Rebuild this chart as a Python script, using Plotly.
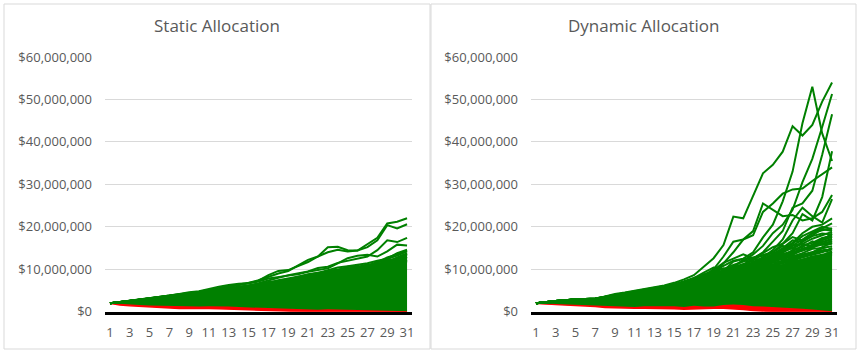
import plotly.graph_objects as go

years = list(range(1, 32))
tick_years = list(range(1, 32, 2))
y_ticks = [0, 10e6, 20e6, 30e6, 40e6, 50e6, 60e6]
y_tick_text = [f"${v:,.0f}" for v in y_ticks]
titles = ["Static Allocation", "Dynamic Allocation"]

# ---- Static allocation (values in $ millions) ----
static_red_bot = [2.0,1.6,1.4,1.25,1.1,1.0,0.9,0.75,0.8,0.7,0.75,0.7,0.6,0.5,0.4,0.3,0.25,0.2,0.1,0.05,0,0,0,0,0,0,0,0,0,0,0]
static_red_top = [2.0,1.8,1.65,1.55,1.45,1.4,1.3,1.2,1.3,1.2,1.3,1.35,1.25,1.1,1.0,0.95,0.9,0.85,0.75,0.6,0.5,0.45,0.6,0.55,0.5,0.5,0.45,0.35,0.25,0.15,0.1]
static_band_top = [2.0,2.3,2.6,2.9,3.2,3.5,3.8,4.0,4.3,4.5,4.8,5.1,5.4,5.7,6.0,6.3,6.6,6.9,7.3,7.6,7.9,8.3,8.6,9.0,9.3,9.7,10.1,10.5,11.0,11.6,12.2]
static_paths = [
    [2.0,2.3,2.6,2.9,3.2,3.5,3.8,4.1,4.5,4.7,5.2,5.6,6.0,6.4,6.8,7.4,8.2,9.0,9.6,11.0,12.2,13.0,14.0,14.6,14.2,14.4,15.8,17.4,20.8,21.2,22.0],
    [2.0,2.2,2.5,2.8,3.1,3.5,3.8,4.2,4.6,4.8,5.4,5.9,6.3,6.6,6.7,7.3,8.6,9.6,9.8,10.8,11.7,13.0,15.2,15.3,14.5,14.4,15.2,16.8,20.4,19.6,20.6],
    [2.0,2.2,2.5,2.8,3.1,3.3,3.6,3.9,4.2,4.5,4.8,5.1,5.5,5.9,6.2,6.7,7.4,8.0,8.6,9.0,9.5,10.3,10.6,11.5,12.0,12.6,13.0,14.5,16.8,16.4,17.4],
    [2.0,2.3,2.6,2.9,3.2,3.5,3.8,4.0,4.3,4.6,4.9,5.3,5.8,6.2,6.6,7.1,7.8,8.2,8.5,8.8,9.4,9.8,10.2,11.4,12.6,13.2,13.4,13.0,14.2,15.8,15.6],
    [2.0,2.2,2.4,2.7,3.0,3.3,3.5,3.8,4.1,4.3,4.6,4.9,5.2,5.6,6.0,6.4,6.8,7.4,7.8,8.3,8.7,9.1,9.8,10.4,10.7,11.0,11.4,12.0,12.5,13.8,14.6],
    [2.0,2.3,2.6,2.9,3.1,3.4,3.6,3.9,4.2,4.4,4.7,5.0,5.3,5.5,5.8,6.1,6.5,7.0,7.6,8.0,8.4,8.9,9.4,9.6,10.2,10.4,10.6,11.2,12.0,12.6,13.4],
    [2.0,2.2,2.5,2.7,3.0,3.2,3.4,3.7,3.9,4.2,4.4,4.7,5.0,5.3,5.6,5.9,6.2,6.6,7.0,7.4,7.8,8.2,8.7,9.2,9.5,9.9,10.3,10.8,11.3,11.8,12.6],
    [2.0,2.3,2.5,2.8,3.1,3.4,3.7,4.0,4.2,4.5,4.8,5.1,5.4,5.8,6.2,6.5,7.0,7.2,7.6,8.2,8.8,9.2,9.4,9.8,10.6,10.8,10.2,11.6,12.4,13.2,14.2],
    [2.0,2.2,2.5,2.7,2.9,3.2,3.5,3.8,4.1,4.3,4.5,4.8,5.1,5.4,5.7,6.0,6.4,6.9,7.2,7.6,8.1,8.5,9.0,9.5,9.8,10.2,10.8,11.0,11.8,12.4,13.0],
    [2.0,2.2,2.4,2.6,2.9,3.1,3.3,3.6,3.9,4.1,4.4,4.6,4.9,5.2,5.5,5.9,6.3,6.8,7.1,7.7,8.0,8.4,9.2,9.4,9.9,10.6,11.2,11.0,11.6,12.8,13.8],
    [2.0,2.3,2.5,2.8,3.0,3.3,3.6,3.8,4.0,4.3,4.6,4.8,5.2,5.5,5.9,6.2,6.7,7.3,7.4,7.9,8.5,9.0,9.6,10.0,10.3,10.1,10.8,11.7,12.2,12.0,12.2],
    [2.0,2.2,2.5,2.8,3.0,3.2,3.5,3.7,4.0,4.2,4.5,4.8,5.1,5.3,5.6,6.0,6.6,7.0,7.3,7.5,8.0,8.6,8.9,9.5,10.0,10.5,10.9,11.2,11.0,11.4,11.8],
    [2.0,2.3,2.5,2.7,3.0,3.3,3.6,3.9,4.2,4.4,4.7,5.0,5.2,5.5,5.9,6.3,6.9,7.0,7.5,8.0,8.2,8.7,9.2,9.3,9.8,10.4,10.9,11.6,12.8,13.5,14.3],
    [2.0,2.2,2.5,2.7,3.0,3.2,3.5,3.7,4.0,4.2,4.5,4.8,5.0,5.3,5.6,5.9,6.2,6.5,6.9,7.3,7.6,8.0,8.4,8.9,9.3,9.8,10.2,10.7,11.2,11.9,12.9],
    [2.0,2.3,2.5,2.8,3.0,3.3,3.5,3.8,4.1,4.3,4.6,4.9,5.2,5.4,5.7,6.1,6.5,6.9,7.2,7.6,8.1,8.4,8.8,9.2,9.6,10.0,10.6,10.9,11.5,12.2,13.6],
    [2.0,2.2,2.4,2.7,2.9,3.2,3.4,3.7,3.9,4.2,4.5,4.7,5.0,5.3,5.6,5.9,6.3,6.7,7.0,7.4,7.7,8.1,8.6,9.0,9.4,9.7,10.1,10.5,10.9,11.4,12.0],
]

# ---- Dynamic allocation (values in $ millions) ----
dynamic_red_bot = [2.0,1.8,1.7,1.6,1.5,1.4,1.2,1.0,0.9,0.85,0.8,0.8,0.8,0.8,0.7,0.6,0.7,0.7,0.8,0.8,0.7,0.5,0.3,0.1,0,0,0,0,0,0,0]
dynamic_red_top = [2.0,1.9,1.8,1.75,1.7,1.6,1.5,1.3,1.2,1.2,1.1,1.3,1.3,1.3,1.3,1.1,1.4,1.2,1.2,1.6,1.7,1.6,1.3,1.2,1.1,1.0,0.9,0.7,0.5,0.3,0.1]
dynamic_band_top = [2.0,2.3,2.5,2.7,2.9,2.9,3.0,3.4,3.8,4.0,4.3,4.6,4.9,5.2,5.5,5.9,6.3,6.7,7.2,7.6,8.2,8.7,9.3,9.8,10.5,11.0,11.8,12.3,13.0,13.4,14.0]
dynamic_paths = [
    [2.0,2.2,2.4,2.6,2.9,2.9,3.0,3.6,4.2,4.5,4.9,5.3,5.8,6.2,6.8,7.6,8.6,10.5,12.6,15.7,22.4,22.0,27.1,32.6,34.6,37.7,43.7,41.5,44.0,49.5,54.0],
    [2.0,2.3,2.5,2.7,3.0,3.0,3.1,3.5,4.0,4.4,4.8,5.2,5.6,6.0,6.5,7.2,8.0,8.8,9.5,10.8,12.0,12.5,14.0,17.5,20.5,26.0,33.0,44.4,53.0,42.0,35.5],
    [2.0,2.2,2.4,2.6,2.8,2.9,3.0,3.4,3.9,4.2,4.6,5.0,5.4,5.8,6.3,6.9,7.6,8.4,9.0,9.8,10.6,12.0,13.5,15.5,18.5,20.5,24.0,30.5,36.0,43.5,51.3],
    [2.0,2.3,2.5,2.7,2.9,2.8,2.9,3.3,3.8,4.1,4.5,4.9,5.3,5.7,6.1,6.6,7.2,7.8,8.6,9.4,10.2,11.0,12.5,14.0,16.5,19.0,24.5,25.5,28.5,37.0,46.5],
    [2.0,2.2,2.4,2.6,2.8,2.8,2.9,3.2,3.6,3.9,4.3,4.7,5.1,5.5,6.0,6.5,7.1,7.8,8.4,9.2,10.0,10.8,11.6,12.8,14.0,16.0,18.5,23.0,21.5,27.0,37.8],
    [2.0,2.3,2.5,2.7,3.0,3.0,3.1,3.5,4.0,4.3,4.7,5.1,5.5,5.9,6.4,7.0,7.7,8.5,10.0,13.0,16.5,17.0,18.0,23.5,25.5,27.8,28.8,29.0,30.8,32.3,34.0],
    [2.0,2.2,2.4,2.6,2.8,2.8,2.9,3.3,3.7,4.0,4.4,4.8,5.2,5.6,6.0,6.5,7.2,7.9,8.8,11.5,14.0,17.0,19.0,25.5,24.0,22.5,22.8,21.5,22.0,23.5,27.5],
    [2.0,2.2,2.4,2.6,2.8,2.9,3.0,3.3,3.7,4.0,4.3,4.7,5.1,5.4,5.8,6.3,6.9,7.5,8.2,9.0,9.8,10.5,11.5,12.8,14.5,17.0,21.5,24.5,22.5,21.0,26.5],
    [2.0,2.3,2.5,2.7,2.9,2.9,3.0,3.4,3.8,4.1,4.5,4.9,5.2,5.6,6.1,6.6,7.3,8.0,8.5,9.0,9.6,10.4,11.2,12.4,13.6,14.8,16.2,18.5,20.0,20.5,22.0],
    [2.0,2.2,2.4,2.6,2.8,2.8,2.9,3.2,3.6,3.9,4.2,4.6,5.0,5.4,5.8,6.3,6.8,7.4,8.0,8.6,9.4,10.0,10.8,11.8,12.9,14.2,15.5,17.0,18.5,19.6,20.8],
    [2.0,2.3,2.5,2.7,3.0,3.0,3.1,3.4,3.9,4.2,4.6,5.0,5.3,5.7,6.2,6.8,7.5,8.3,9.2,10.2,9.8,10.6,11.5,12.2,13.5,15.0,16.8,16.5,18.0,19.5,19.0],
    [2.0,2.2,2.4,2.6,2.9,2.9,3.0,3.3,3.8,4.1,4.4,4.8,5.2,5.6,6.0,6.6,7.4,8.8,9.5,9.0,10.5,12.2,12.8,13.2,14.0,15.5,14.8,16.5,17.8,18.4,18.2],
    [2.0,2.2,2.4,2.6,2.8,2.8,2.9,3.2,3.6,3.8,4.2,4.5,4.9,5.3,5.7,6.1,6.6,7.2,7.8,8.4,9.0,9.6,10.4,11.2,12.0,12.8,13.6,14.6,15.6,16.4,17.2],
    [2.0,2.3,2.5,2.7,2.9,2.9,3.0,3.3,3.7,4.0,4.4,4.7,5.1,5.5,5.9,6.4,7.0,7.6,8.1,8.8,9.5,10.2,10.9,11.6,12.4,13.3,14.1,14.6,15.2,15.8,16.0],
    [2.0,2.2,2.4,2.6,2.8,2.8,2.9,3.2,3.5,3.8,4.1,4.5,4.8,5.2,5.5,5.9,6.4,6.9,7.4,8.0,8.6,9.1,9.7,10.3,10.9,11.6,12.3,13.0,13.6,14.2,14.8],
    [2.0,2.2,2.4,2.6,2.8,2.9,3.0,3.3,3.6,3.9,4.2,4.6,4.9,5.3,5.6,6.0,6.5,7.0,7.6,8.2,8.7,9.3,10.0,10.6,11.2,11.8,12.6,13.3,14.0,14.4,13.8],
    [2.0,2.2,2.4,2.6,2.8,2.9,3.0,3.4,3.9,4.2,4.5,4.9,5.3,5.7,6.2,6.8,7.6,8.5,9.8,11.5,12.5,13.5,12.6,13.8,15.2,16.0,17.6,16.8,18.5,19.2,19.6],
    [2.0,2.3,2.5,2.7,2.9,3.0,3.0,3.3,3.7,4.0,4.3,4.7,5.0,5.4,5.8,6.3,6.9,7.7,8.3,9.6,11.8,12.4,11.0,12.0,13.2,14.6,16.0,17.8,19.0,20.0,19.5],
    [2.0,2.2,2.4,2.6,2.8,2.8,2.9,3.2,3.6,3.9,4.3,4.7,5.1,5.5,5.9,6.4,7.0,7.6,8.4,9.2,10.5,11.3,12.0,11.4,12.6,13.6,14.2,15.6,16.2,17.4,17.8],
    [2.0,2.2,2.4,2.6,2.9,2.9,3.0,3.3,3.8,4.1,4.4,4.8,5.2,5.6,6.0,6.5,7.2,8.1,9.0,9.5,10.2,11.0,12.2,13.4,14.0,13.2,14.5,15.2,16.6,15.8,16.6],
    [2.0,2.3,2.5,2.7,2.9,2.9,3.0,3.4,3.8,4.1,4.4,4.8,5.1,5.5,5.9,6.4,7.0,7.4,7.9,8.6,9.2,9.8,10.6,11.2,11.8,12.6,13.0,13.8,14.8,15.0,15.4],
    [2.0,2.2,2.4,2.6,2.8,2.8,2.9,3.2,3.6,3.9,4.2,4.6,5.0,5.3,5.7,6.2,6.7,7.2,7.7,8.2,8.9,9.4,10.1,10.8,11.5,12.0,12.8,13.5,14.0,14.9,14.2],
    [2.0,2.3,2.5,2.7,2.9,3.0,3.1,3.5,3.9,4.2,4.6,5.0,5.4,5.8,6.3,6.9,7.9,9.2,10.4,10.0,11.0,11.8,12.5,12.2,13.0,14.2,15.0,16.0,15.4,16.8,17.6],
    [2.0,2.2,2.4,2.6,2.8,2.9,3.0,3.3,3.7,4.0,4.3,4.6,5.0,5.3,5.7,6.1,6.6,7.3,8.0,8.8,9.6,10.6,11.5,12.4,13.3,14.5,15.6,16.0,17.2,18.0,18.8],
    [2.0,2.3,2.5,2.7,2.9,2.9,3.0,3.3,3.7,4.0,4.3,4.7,5.0,5.4,5.8,6.2,6.8,7.4,8.0,8.7,9.1,9.9,10.8,11.6,12.8,12.2,13.4,14.6,15.8,16.9,18.4],
    [2.0,2.2,2.4,2.6,2.8,2.8,2.9,3.2,3.6,3.9,4.2,4.5,4.8,5.1,5.5,5.9,6.4,6.9,7.5,8.1,8.8,9.5,10.2,10.9,11.7,12.5,13.3,12.8,13.9,15.2,16.2],
    [2.0,2.3,2.5,2.7,2.9,3.0,3.1,3.4,3.8,4.1,4.5,4.8,5.2,5.6,6.0,6.5,7.1,7.7,8.4,9.0,9.7,10.3,11.0,11.9,12.9,13.9,15.2,14.4,15.0,16.4,17.0],
    [2.0,2.2,2.4,2.6,2.8,2.8,2.9,3.2,3.5,3.8,4.1,4.4,4.8,5.1,5.5,5.9,6.3,6.8,7.3,7.9,8.5,9.1,9.6,10.2,10.8,11.4,12.0,12.8,13.4,14.0,15.0],
    [2.0,2.2,2.4,2.6,2.8,2.9,3.0,3.3,3.7,4.0,4.3,4.7,5.1,5.5,5.9,6.4,7.0,7.6,8.1,8.5,9.3,10.1,10.7,11.3,12.2,13.0,13.8,14.9,15.5,16.0,16.6],
    [2.0,2.2,2.4,2.6,2.8,2.8,2.9,3.2,3.6,3.8,4.1,4.4,4.7,5.0,5.4,5.8,6.2,6.7,7.2,7.7,8.2,8.8,9.4,10.0,10.6,11.0,11.6,12.2,12.6,13.1,13.5],
    [2.0,2.3,2.5,2.7,2.9,2.9,3.0,3.3,3.7,4.0,4.4,4.8,5.2,5.6,6.0,6.5,7.1,7.8,8.3,8.9,9.6,10.2,10.9,11.8,12.0,12.9,13.7,14.4,15.8,17.2,18.0],
]

GREEN = "#008000"
RED = "#FF0000"
GRID = "#D9D9D9"
TXT = "#595959"
FONT = "Open Sans"
W, H = 861, 352


def m(v):
    return [x * 1e6 for x in v]


panels = [
    dict(red_bot=static_red_bot, red_top=static_red_top, band=static_band_top, paths=static_paths,
         xd=(105, 412), title_x=216.5, box=(4, 430)),
    dict(red_bot=dynamic_red_bot, red_top=dynamic_red_top, band=dynamic_band_top, paths=dynamic_paths,
         xd=(531, 837), title_x=643, box=(431, 856)),
]

fig = go.Figure()
y_dom = [1 - 311.7 / H, 1 - 57 / H]

for i, p in enumerate(panels):
    n = "" if i == 0 else "2"
    xa, ya = "x" + n, "y" + n
    fig.add_trace(go.Scatter(x=years, y=m(p["red_bot"]), mode="lines", line=dict(color=RED, width=1.5),
                             xaxis=xa, yaxis=ya, hoverinfo="skip"))
    fig.add_trace(go.Scatter(x=years, y=m(p["red_top"]), mode="lines", line=dict(color=RED, width=1.5),
                             fill="tonexty", fillcolor=RED, xaxis=xa, yaxis=ya, hoverinfo="skip"))
    fig.add_trace(go.Scatter(x=years, y=m(p["red_top"]), mode="lines", line=dict(color=GREEN, width=0),
                             xaxis=xa, yaxis=ya, hoverinfo="skip"))
    fig.add_trace(go.Scatter(x=years, y=m(p["band"]), mode="lines", line=dict(color=GREEN, width=2),
                             fill="tonexty", fillcolor=GREEN, xaxis=xa, yaxis=ya, hoverinfo="skip"))
    for path in p["paths"]:
        fig.add_trace(go.Scatter(x=years, y=m(path), mode="lines", line=dict(color=GREEN, width=2),
                                 xaxis=xa, yaxis=ya, hoverinfo="skip"))

    x0, x1 = p["xd"]
    fig.update_layout(**{
        ("xaxis" + n): dict(domain=[x0 / W, x1 / W], range=[0.5, 31.5], tickvals=tick_years,
                            showgrid=False, zeroline=False, showline=True, linecolor="black", linewidth=2.5,
                            ticks="", tickfont=dict(family=FONT, size=13, color=TXT), ticklabelstandoff=7,
                            anchor=ya, fixedrange=True, automargin=False),
        ("yaxis" + n): dict(domain=y_dom, range=[0, 60e6], tickvals=y_ticks, ticktext=y_tick_text,
                            showgrid=True, gridcolor=GRID, gridwidth=1, zeroline=False, showline=False,
                            ticks="", tickfont=dict(family=FONT, size=13, color=TXT), ticklabelstandoff=12,
                            anchor=xa, fixedrange=True, automargin=False),
    })
    fig.add_annotation(text=titles[i], x=p["title_x"] / W, y=1 - 26 / H, xref="paper", yref="paper",
                       showarrow=False, xanchor="center", yanchor="middle",
                       font=dict(family=FONT, size=17, color=TXT))
    bx0, bx1 = p["box"]
    fig.add_shape(type="rect", xref="paper", yref="paper", x0=bx0 / W, x1=bx1 / W,
                  y0=1 - 349 / H, y1=1 - 4 / H, line=dict(color=GRID, width=1), fillcolor="rgba(0,0,0,0)")

fig.update_layout(width=W, height=H, margin=dict(l=0, r=0, t=0, b=0, pad=0, autoexpand=False),
                  showlegend=False, plot_bgcolor="white", paper_bgcolor="white")

fig.write_html("out.html", post_script="document.body.style.margin='0';document.body.style.padding='0';")
